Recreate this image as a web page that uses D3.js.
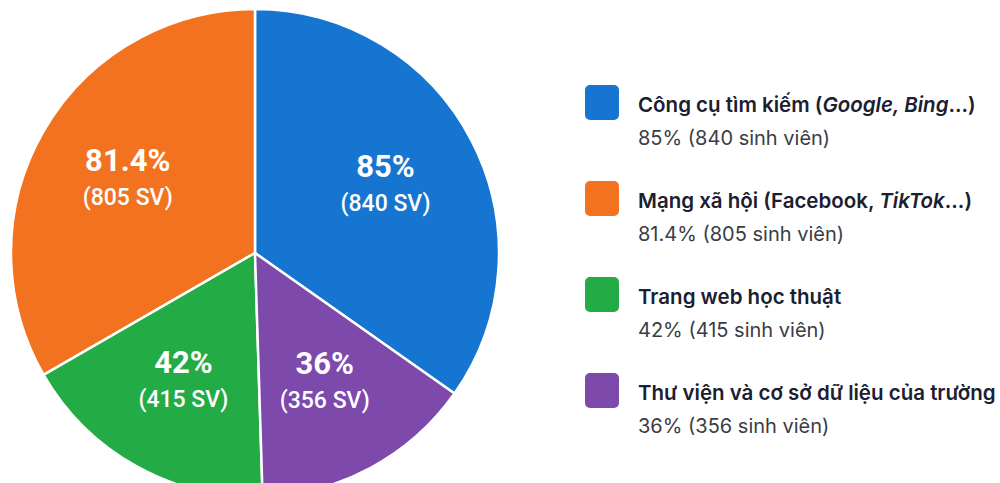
<!DOCTYPE html>
<html>
<head>
<meta charset="utf-8">
<script src="https://cdn.jsdelivr.net/npm/d3@7"></script>
<style>
  body { margin: 0; background: #fff; }
  svg { display: block; }
  .pct { font-family: Roboto, sans-serif; font-weight: 700; fill: #fff; }
  .cnt { font-family: Roboto, sans-serif; font-weight: 500; fill: #fff; }
  .lg-title { font-family: Inter, sans-serif; font-weight: 600; fill: #1b2030; }
  .lg-sub { font-family: Inter, sans-serif; font-weight: 400; fill: #3a3d45; }
</style>
</head>
<body>
<div id="chart"></div>
<script>
// data
var categories = ["Công cụ tìm kiếm", "Mạng xã hội", "Trang web học thuật", "Thư viện và cơ sở dữ liệu của trường"];
var percents = [85, 81.4, 42, 36];
var students = [840, 805, 415, 356];
var colors = ["#1575d1", "#f37220", "#23ab45", "#7d49ab"];
// order of slices going clockwise from 12 o'clock
var sliceOrder = [0, 3, 2, 1];

function init() {
    var w = 1000;
    var h = 483;
    var cx = 255, cy = 253, r = 244;

    var data = categories.map(function(c, i) {
        return { name: c, pct: percents[i], n: students[i], color: colors[i], idx: i };
    });

    var svg = d3.select("#chart")
        .append("svg")
        .attr("width", w)
        .attr("height", h);

    var pie = d3.pie()
        .value(function(d) { return d.n; })
        .sort(function(a, b) { return sliceOrder.indexOf(a.idx) - sliceOrder.indexOf(b.idx); });

    var arc = d3.arc().innerRadius(0).outerRadius(r);
    var labelArc = d3.arc().innerRadius(147).outerRadius(147);

    var g = svg.append("g").attr("transform", "translate(" + cx + "," + cy + ")");
    var arcs = pie(data);

    g.selectAll("path")
        .data(arcs)
        .enter()
        .append("path")
        .attr("d", arc)
        .attr("fill", function(d) { return d.data.color; })
        .attr("stroke", "#fff")
        .attr("stroke-width", 2.5)
        .attr("stroke-linejoin", "round");

    var labels = g.selectAll(".lbl")
        .data(arcs)
        .enter()
        .append("g")
        .attr("class", "lbl")
        .attr("transform", function(d) { return "translate(" + labelArc.centroid(d) + ")"; });

    labels.append("text")
        .attr("class", "pct")
        .attr("text-anchor", "middle")
        .attr("y", -8)
        .style("font-size", "31px")
        .text(function(d) { return d.data.pct + "%"; });

    labels.append("text")
        .attr("class", "cnt")
        .attr("text-anchor", "middle")
        .attr("y", 26)
        .style("font-size", "23px")
        .text(function(d) { return "(" + d.data.n + " SV)"; });

    // legend
    var rowY = d3.scaleLinear().domain([0, 3]).range([85, 373]);
    var legend = svg.selectAll(".lg")
        .data(data)
        .enter()
        .append("g")
        .attr("class", "lg")
        .attr("transform", function(d, i) { return "translate(585," + rowY(i) + ")"; });

    legend.append("rect")
        .attr("width", 34)
        .attr("height", 35)
        .attr("rx", 5)
        .attr("fill", function(d) { return d.color; });

    var titles = legend.append("text")
        .attr("class", "lg-title")
        .attr("x", 53)
        .attr("y", 27)
        .style("font-size", "20.5px");

    // some titles carry italic examples in brackets
    titles.each(function(d, i) {
        var t = d3.select(this);
        t.append("tspan").text(d.name);
        if (i === 0) {
            t.append("tspan").text(" (");
            t.append("tspan").style("font-style", "italic").text("Google, Bing");
            t.append("tspan").text("...)");
        } else if (i === 1) {
            t.append("tspan").text(" (Facebook, ");
            t.append("tspan").style("font-style", "italic").text("TikTok");
            t.append("tspan").text("...)");
        }
    });

    legend.append("text")
        .attr("class", "lg-sub")
        .attr("x", 53)
        .attr("y", 60)
        .style("font-size", "20px")
        .text(function(d) { return d.pct + "% (" + d.n + " sinh viên)"; });
}
window.onload = init;
</script>
</body>
</html>
